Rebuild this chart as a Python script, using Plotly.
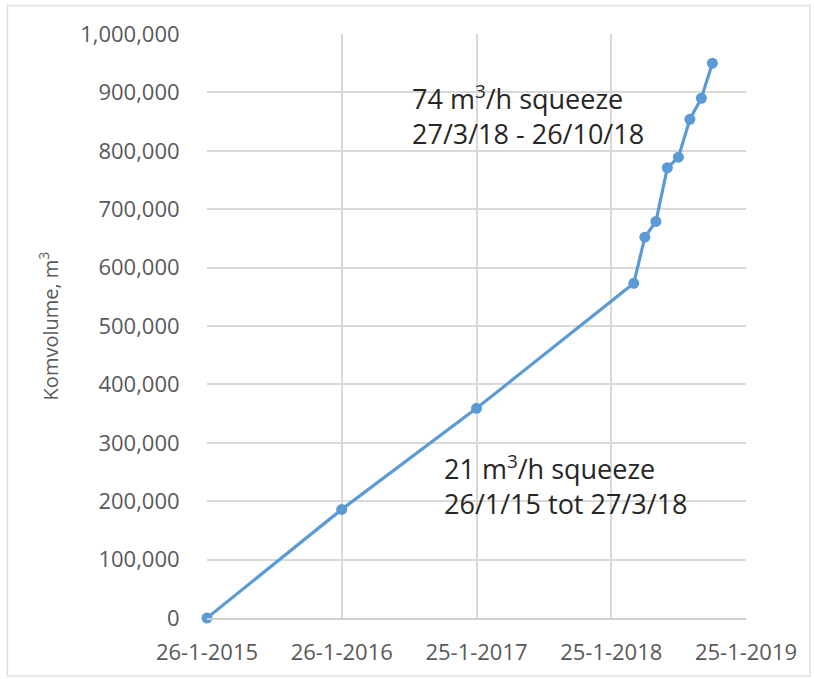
import plotly.graph_objects as go

# ---- data ----
dates = ["2015-01-26", "2016-01-26", "2017-01-25", "2018-03-27", "2018-04-26",
         "2018-05-26", "2018-06-26", "2018-07-26", "2018-08-26", "2018-09-26",
         "2018-10-26"]
volumes = [0, 186000, 359000, 573000, 652000, 679000, 771000, 789000,
           854000, 890000, 950000]

x_tick_vals = ["2015-01-26", "2016-01-26", "2017-01-25", "2018-01-25", "2019-01-25"]
x_tick_text = ["26-1-2015", "26-1-2016", "25-1-2017", "25-1-2018", "25-1-2019"]
y_tick_vals = [0, 100000, 200000, 300000, 400000, 500000, 600000, 700000, 800000, 900000, 1000000]

y_title = "Komvolume, m<sup>3</sup>"
note_high = "74 m<sup>3</sup>/h squeeze<br>27/3/18 - 26/10/18"
note_low = "21 m<sup>3</sup>/h squeeze<br>26/1/15 tot 27/3/18"

BLUE = "#5b9bd5"
GRID = "#d9d9d9"
TXT = "#595959"
FONT = "Open Sans"

fig = go.Figure()
fig.add_trace(go.Scatter(
    x=dates, y=volumes, mode="lines+markers",
    line=dict(color=BLUE, width=3.2),
    marker=dict(color=BLUE, size=11),
    cliponaxis=False, showlegend=False,
))

fig.update_layout(
    width=814, height=679,
    margin=dict(l=207, r=68, t=34, b=61),
    paper_bgcolor="white", plot_bgcolor="white",
    font=dict(family=FONT, color=TXT),
    xaxis=dict(
        type="date", range=[x_tick_vals[0], x_tick_vals[-1]],
        tickmode="array", tickvals=x_tick_vals, ticktext=x_tick_text,
        showgrid=True, gridcolor=GRID, gridwidth=1.5,
        showline=True, linecolor="#d0d0d0", linewidth=2,
        ticks="outside", ticklen=14, tickcolor="rgba(0,0,0,0)",
        tickfont=dict(size=22, color=TXT, family=FONT),
        zeroline=False, automargin=False,
    ),
    yaxis=dict(
        range=[0, 1000000], tickmode="array", tickvals=y_tick_vals,
        tickformat=",d",
        showgrid=True, gridcolor=GRID, gridwidth=1.5,
        showline=False, zeroline=False,
        ticks="outside", ticklen=22, tickcolor="rgba(0,0,0,0)",
        tickfont=dict(size=22, color=TXT, family=FONT),
        title=dict(text=y_title, font=dict(size=20, color=TXT, family=FONT), standoff=16),
        automargin=False,
    ),
)

fig.add_annotation(
    x="2016-07-28", y=862000, xref="x", yref="y",
    text=note_high, showarrow=False, xanchor="left", yanchor="middle", align="left",
    font=dict(size=27, color="#262626", family=FONT),
)
fig.add_annotation(
    x="2016-10-23", y=228000, xref="x", yref="y",
    text=note_low, showarrow=False, xanchor="left", yanchor="middle", align="left",
    font=dict(size=27, color="#262626", family=FONT),
)

# outer light border of the chart
fig.add_shape(type="rect", xref="paper", yref="paper",
              x0=-0.3703, x1=1.1186, y0=-0.0992, y1=1.0488,
              line=dict(color="#e0e0e0", width=1.5), layer="below")

fig.write_html("out.html",
               config={"displayModeBar": False},
               post_script="document.body.style.margin='0';document.body.style.overflow='hidden';")
